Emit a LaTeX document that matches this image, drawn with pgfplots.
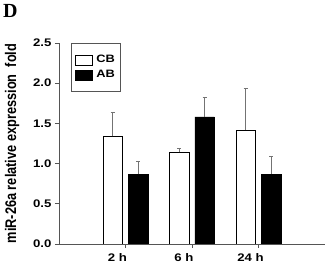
\documentclass[border=0pt]{standalone}
\usepackage{fontspec}
\setmainfont{Liberation Sans}
\newfontfamily\seriffont{Liberation Serif}
\newfontfamily\widefont[FakeStretch=1.2]{Liberation Sans}
\newfontfamily\tallfont[FakeStretch=0.83]{Liberation Sans}
\usepackage{pgfplots}
\pgfplotsset{compat=1.18}
\definecolor{axgray}{RGB}{85,85,85}
\definecolor{errgray}{RGB}{115,115,115}
\begin{document}
\begin{tikzpicture}
\path[use as bounding box] (-59pt,-23pt) rectangle (271pt,244pt);
\begin{axis}[
  at={(0,0)}, anchor=south west,
  scale only axis, width=266pt, height=201pt,
  xmin=0, xmax=4, ymin=0, ymax=2.5,
  axis x line*=bottom, axis y line*=left,
  axis line style={axgray, line width=0.8pt},
  xtick={1,2,3}, xticklabels={2 h,6 h,24 h},
  ytick={0,0.5,1.0,1.5,2.0,2.5},
  tick style={axgray, line width=0.8pt},
  tick align=outside, major tick length=4pt,
  yticklabel style={/pgf/number format/.cd, fixed, fixed zerofill, precision=1, assume math mode=true},
  ticklabel style={font=\widefont\bfseries\fontsize{11}{13}\selectfont},
  xticklabel style={xshift=-8pt, yshift=-2pt},
  ylabel={miR-26a relative expression\ \ fold},
  ylabel style={font=\tallfont\bfseries\fontsize{15.4}{16}\selectfont},
  ylabel shift=7pt,
  ybar, bar width=19.5pt,
  legend style={at={(0.047,1)}, anchor=north west, draw=axgray, line width=0.8pt,
    font=\widefont\bfseries\fontsize{10.7}{13}\selectfont, inner xsep=3pt, inner ysep=10pt,
    row sep=2pt, column sep=2pt},
  legend image code/.code={\draw[#1, draw=black, line width=0.5pt] (0pt,-5pt) rectangle (17pt,5pt);},
  legend cell align=left,
]
\addplot[fill=white, draw=black, line width=0.5pt, bar shift=-12.75pt,
  error bars/.cd, y dir=plus, y explicit,
  error bar style={errgray, line width=0.8pt},
  error mark options={rotate=90, errgray, mark size=2pt, line width=0.8pt}]
  coordinates {(1,1.34) +- (0,0.30) (2,1.14) +- (0,0.05) (3,1.42) +- (0,0.52)};
\addplot[fill=black, draw=black, line width=0.5pt, bar shift=12.75pt,
  error bars/.cd, y dir=plus, y explicit,
  error bar style={errgray, line width=0.8pt},
  error mark options={rotate=90, errgray, mark size=2pt, line width=0.8pt}]
  coordinates {(1,0.87) +- (0,0.16) (2,1.58) +- (0,0.24) (3,0.87) +- (0,0.22)};
\legend{CB,AB}
\end{axis}
\node[anchor=north west, inner sep=0pt, font=\seriffont\bfseries\fontsize{20}{20}\selectfont] at (-56pt,240pt) {D};
\end{tikzpicture}
\end{document}
